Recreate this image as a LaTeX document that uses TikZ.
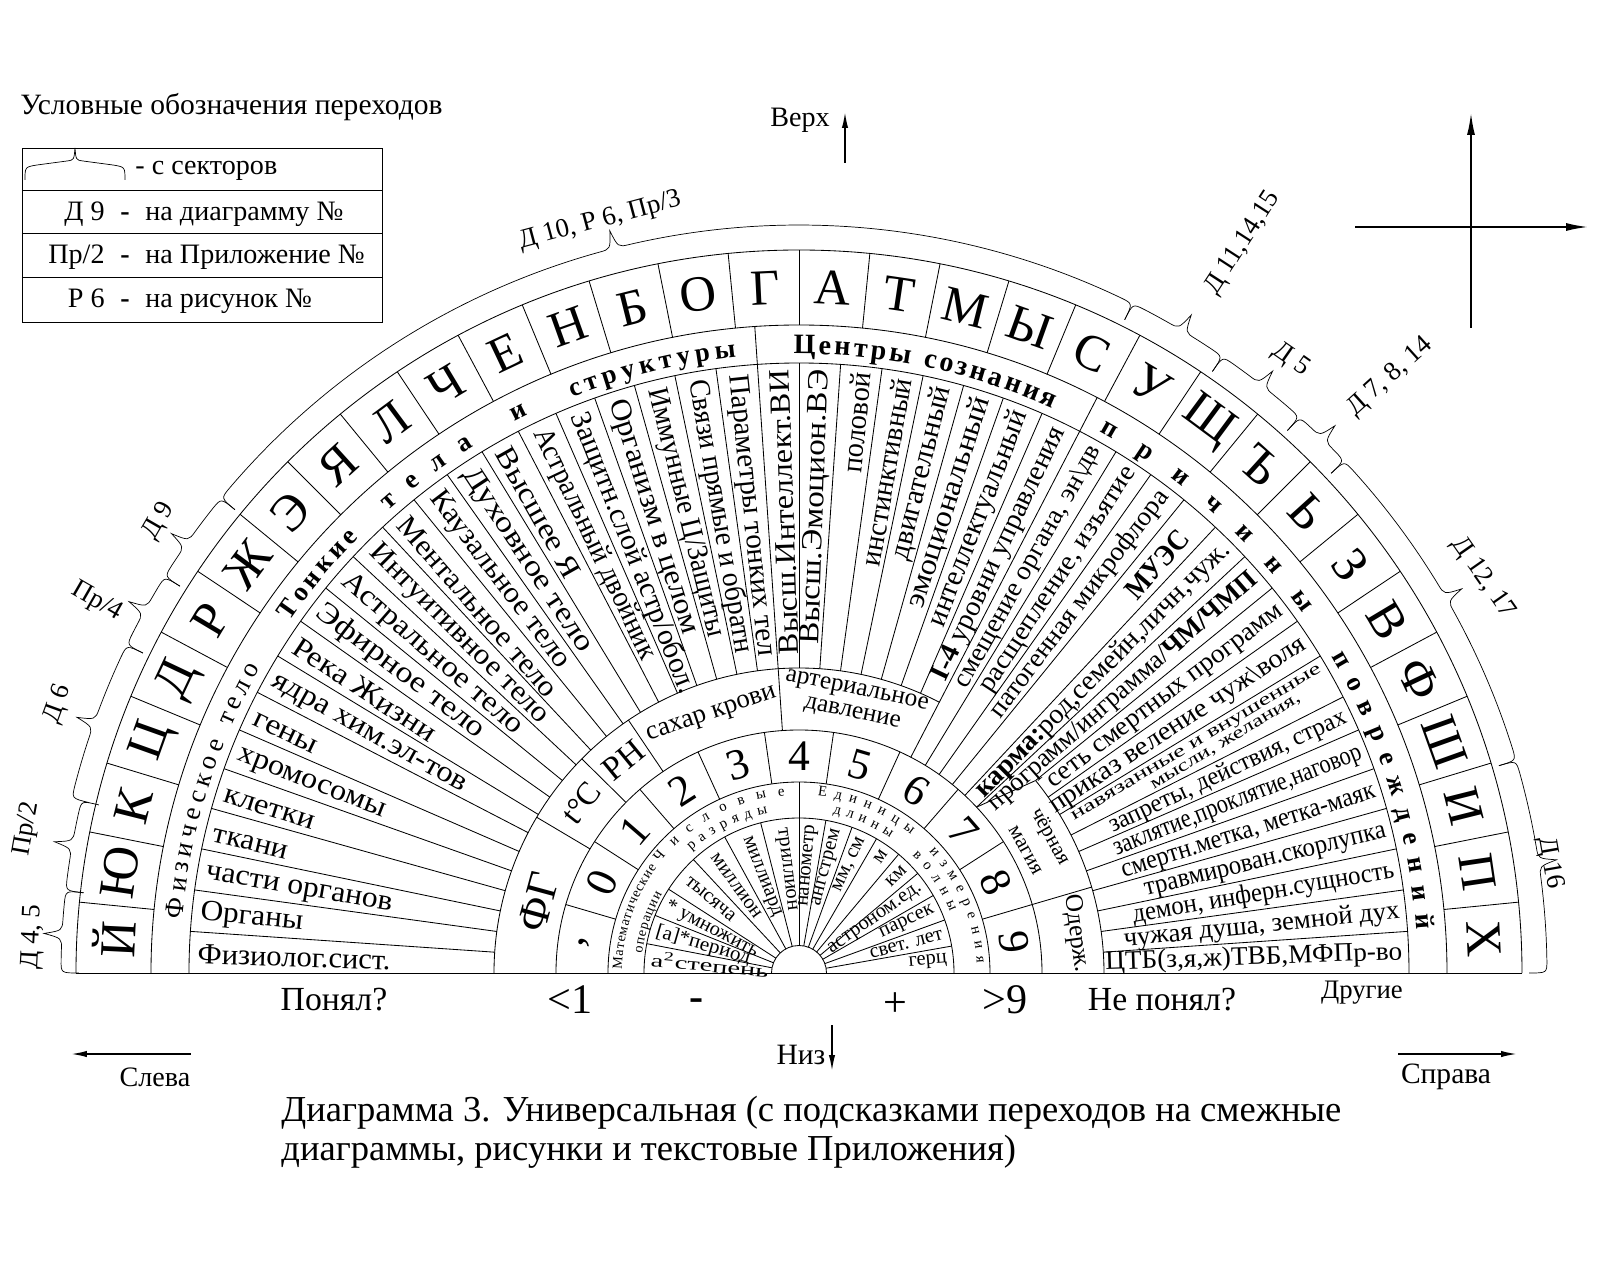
\documentclass[tikz,border=0pt]{standalone}
\usepackage{fontspec}
\setmainfont{Liberation Serif}
\usepackage{graphicx}
\usetikzlibrary{arrows.meta,decorations.text}

\newlength\pxu
\setlength\pxu{0.25mm}
% text squeezed to a given length and height (in picture units)
\newcommand\fitt[3]{\resizebox{#1\pxu}{#2\pxu}{\rule{0pt}{0.75em}#3}}
% curly brace round the outer ring: [radius]{from}{tip}{to}
\newcommand\brc[4][748]{%
  \pgfmathsetmacro\brin{#1-18}\pgfmathsetmacro\brout{#1+18}%
  \draw[brc] (#2:\brin) .. controls (#2:#1) .. ({#2-1}:#1)
    arc[start angle={#2-1}, end angle={#3+1.2}, radius=#1]
    .. controls ({#3+0.3}:#1) .. (#3:\brout)
    .. controls ({#3-0.3}:#1) .. ({#3-1.2}:#1)
    arc[start angle={#3-1.2}, end angle={#4+1}, radius=#1]
    .. controls (#4:#1) .. (#4:\brin);}
\def\stp{3.913043}

\begin{document}
\begin{tikzpicture}[x=0.25mm, y=0.25mm, line width=0.6pt,
  every node/.style={inner sep=0pt},
  ltrf/.style={font=\fontsize{36}{36}\selectfont},
  dgtf/.style={font=\fontsize{31}{31}\selectfont},
  smlf/.style={font=\fontsize{14.5}{14.5}\selectfont},
  reff/.style={font=\fontsize{19}{19}\selectfont},
  lgf/.style={font=\fontsize{20}{20}\selectfont},
  bigf/.style={font=\fontsize{30}{30}\selectfont},
  brc/.style={line width=0.5pt},
  arr/.style={line width=1.2pt, -{Latex[length=4mm,width=1.6mm]}},
  arctxt/.style={decorate, decoration={text along path, text align={fit to path}, text={#1}}}]
\useasboundingbox (-799,-307) rectangle (801,973);

% Rings
\draw (-723,0) -- (723,0);
\foreach \rr in {723,648,610,243,191,155,27.5}
  \draw (\rr,0) arc[start angle=0, end angle=180, radius=\rr];
\draw (-305,0) arc[start angle=180, end angle={16*\stp}, radius=305];
\draw (305,0) arc[start angle=0, end angle={10*\stp}, radius=305];

% Letters
\foreach \mm in {1,...,31} \draw ({\mm*5.625}:648) -- ({\mm*5.625}:723);
\foreach \lt [count=\mm from 0] in {Й,Ю,К,Ц,Д,Р,Ж,Э,Я,Л,Ч,Е,Н,Б,О,Г,А,Т,М,Ы,С,У,Щ,Ъ,Ь,З,В,Ф,Ш,И,П,Х}
  \node[ltrf, rotate={90-(\mm+0.5)*5.625}] (L\mm) at ({180-(\mm+0.5)*5.625}:686) {\lt};

% Sector lines
\draw ({16*\stp}:243) -- ({16*\stp}:648);
\draw ({24*\stp}:243) -- ({24*\stp}:648);
\foreach \kk in {1,...,6,8,9,10} \draw ({\kk*\stp}:305) -- ({\kk*\stp}:610);
\draw (26.9:305) -- (26.9:610);
\foreach \kk in {11,...,15} \draw ({\kk*\stp}:243) -- ({\kk*\stp}:610);
\foreach \kk in {17,...,23} \draw ({\kk*\stp}:305) -- ({\kk*\stp}:610);
\foreach \kk in {25,...,45} \draw ({\kk*\stp}:305) -- ({\kk*\stp}:610);
\draw ({11*\stp}:243) -- ({10*\stp}:305);
\foreach \ang in {149.3,135.4,124} \draw (\ang:243) -- (\ang:305);
\foreach \kk in {2,...,10} \draw ({\kk*180/11}:191) -- ({\kk*180/11}:243);
\draw ({180/11}:191) -- ({180/11}:305);
\foreach \ang in {169.09,158.18,147.27,132.95,118.64,104.32} \draw (\ang:27.5) -- (\ang:155);
\foreach \ang in {10,20,...,80} \draw (\ang:27.5) -- (\ang:155);
\draw (90:27.5) -- (90:191);

% Ring titles
\path[arctxt={|\fontsize{19}{19}\selectfont|Физическое тело}] (175:619) arc[start angle=175, end angle=150.5, radius=619];
\path[arctxt={|\fontsize{19}{19}\selectfont\bfseries|Тонкие}] (145.4:619) arc[start angle=145.4, end angle=135.3, radius=619];
\path[arctxt={|\fontsize{19}{19}\selectfont\bfseries|тела}] (131.6:619) arc[start angle=131.6, end angle=121.7, radius=619];
\node[font=\fontsize{19}{19}\selectfont\bfseries, rotate=26.6] (ti) at (116.6:627) {и};
\path[arctxt={|\fontsize{19}{19}\selectfont\bfseries|структуры}] (111.5:619) arc[start angle=111.5, end angle=95.8, radius=619];
\path[arctxt={|\fontsize{20}{20}\selectfont\bfseries|Центры сознания}] (90.5:619) arc[start angle=90.5, end angle=65.8, radius=619];
\path[arctxt={|\fontsize{19}{19}\selectfont\bfseries|причины}] (61:619) arc[start angle=61, end angle=35.5, radius=619];
\path[arctxt={|\fontsize{19}{19}\selectfont\bfseries|повреждений}] (30.7:619) arc[start angle=30.7, end angle=4, radius=619];

% Physical and subtle bodies
\foreach \tx/\ww [count=\ii from 0] in {Физиолог.сист./193, Органы/103, части органов/189, ткани/76,
    клетки/94, хромосомы/157, гены/69, ядра хим.эл-тов/219, Река Жизни/166, Эфирное тело/204,
    Астральное тело/231, Интуитивное тело/243, Ментальное тело/229, Каузальное тело/215,
    Духовное тело/215, Высшее Я/145, Астральный двойник/253, {Защитн.слой астр/обол.}/300,
    Организм в целом/245, {Иммунные Ц/Защиты}/255, Связи прямые и обратн/277, Параметры тонких тел/283}
  \node[anchor=west, rotate={-(\ii+0.5)*\stp}] (P\ii) at ({180-(\ii+0.5)*\stp}:602) {\fitt{\ww}{22}{\tx}};

% Centres and causes
\foreach \jj/\ww/\hh/\tx in {0/297/20/{ЦТБ(з,я,ж)ТВБ,МФПр-во}, 1/277/20/{чужая душа, земной дух},
    2/265/20/{демон, инферн.сущность}, 3/248/20/{травмирован.скорлупка},
    4/265/20/{смертн.метка, метка-маяк}, 5/265/20/{заклятие,проклятие,наговор},
    8/302/20/{приказ веление чуж\textbackslash воля},
    9/289/20/{сеть смертных программ}, 10/349/20/{программ/инграмма/\textbf{ЧМ/ЧМП}},
    11/349/21/{\textbf{карма:}род,семейн,личн,чуж.}, 13/280/20/{патогенная микрофлора},
    14/265/20/{расщепление, изъятие}, 15/274/20/{смещение органа, эн\textbackslash дв},
    16/278/21/{\textbf{I-4} уровни управления}, 17/230/22/интеллектуальный, 18/220/22/эмоциональный,
    19/178/22/двигательный, 20/190/22/инстинктивный, 21/100/22/половой,
    22/275/22/Высш.Эмоцион.ВЭ, 23/285/22/Высш.Интеллект.ВИ}
  \node[anchor=east, rotate={(\jj+0.5)*\stp}] (Q\jj) at ({(\jj+0.5)*\stp}:604) {\fitt{\ww}{\hh}{\tx}};
\node[anchor=east, rotate=25.2] (Q6) at (25.2:604) {\fitt{260}{19}{запреты, действия, страх}};
\node[anchor=east, rotate=31] (Q7a) at (30.4:604) {\fitt{289}{13}{навязанные и внушенные}};
\node[anchor=east, rotate=31] (Q7b) at (500,277) {\fitt{172}{13}{мысли, желания,}};
\node[rotate=48.9] (Q12) at (48.9:543) {\fitt{82}{22}{\textbf{МУЭС}}};

% Measures
\node[font=\fontsize{31}{31}\selectfont, rotate=74.8] (FG) at (164.8:270) {ФГ};
\node[font=\fontsize{23}{23}\selectfont, rotate=52] (tC) at (142:276) {t°C};
\node[font=\fontsize{24}{24}\selectfont, rotate=39.3] (PH) at (129.5:276) {PH};
\node[font=\fontsize{19}{19}\selectfont, rotate=18.7] (sug) at (108.7:272) {сахар крови};
\node[font=\fontsize{18}{16.5}\selectfont, align=center, rotate=-11.6] (art) at (78.4:276) {артериальное\\давление};
\node[font=\fontsize{15}{20}\selectfont, align=center, rotate=-61] (mag) at (28.5:273) {чёрная\\магия};
\node[font=\fontsize{18}{18}\selectfont, rotate=-81.9] (odr) at (8.1:280) {Одерж.};

% Digits
\foreach \dg [count=\kk from 0] in {9,8,7,6,5,4,3,2,1,0,{,}}
  \node[dgtf, rotate={(\kk+0.5)*180/11-90}] (D\kk) at ({(\kk+0.5)*180/11}:217) {\dg};

% Inner band
\path[arctxt={|\fontsize{10}{10}\selectfont|Математические}] (179:177) arc[start angle=179, end angle=143.5, radius=177];
\path[arctxt={|\fontsize{10}{10}\selectfont|операции}] (173:158) arc[start angle=173, end angle=150, radius=158];
\path[arctxt={|\fontsize{10.5}{10.5}\selectfont|Числовые}] (141.5:178) arc[start angle=141.5, end angle=94.5, radius=178];
\path[arctxt={|\fontsize{10.5}{10.5}\selectfont|разряды}] (131.4:163) arc[start angle=131.4, end angle=101, radius=163];
\path[arctxt={|\fontsize{10.5}{10.5}\selectfont|Единицы}] (84:178) arc[start angle=84, end angle=51, radius=178];
\path[arctxt={|\fontsize{10.5}{10.5}\selectfont|измерения}] (43:178) arc[start angle=43, end angle=3, radius=178];
\path[arctxt={|\fontsize{10.5}{10.5}\selectfont|длины}] (78:163) arc[start angle=78, end angle=56, radius=163];
\path[arctxt={|\fontsize{10.5}{10.5}\selectfont|волны}] (46:163) arc[start angle=46, end angle=22, radius=163];

% Operations and units
\node[anchor=west, rotate=-5.45] (U1) at (174.55:149) {\fitt{118}{15}{a\textsuperscript{2}степень}};
\node[anchor=west, rotate=-16.36] (U2) at (163.64:149) {\fitt{98}{15}{[a]*период}};
\node[anchor=west, rotate=-27.27] (U3) at (152.73:149) {\fitt{102}{15}{* умножить}};
\foreach \tx/\ang [count=\ii from 4] in {тысяча/140.11, миллион/125.8, миллиард/111.48, триллион/97.16}
  \node[smlf, anchor=west, rotate=\ang-180] (U\ii) at (\ang:146) {\tx};
\foreach \tx [count=\ii from 0] in {нанометр, ангстрем, {мм, см}, м, км, астроном.ед., парсек, свет. лет, герц}
  \node[smlf, anchor=east, rotate={85-10*\ii}] (V\ii) at ({85-10*\ii}:149) {\tx};

% Braces
\brc[738]{180}{177}{173.6}
\brc[738]{173.6}{170}{166.5}
\brc{166.5}{160.5}{154}
\brc{154}{151}{148}
\brc{148}{145}{140.6}
\brc{140.6}{104.3}{63.5}
\brc{63.5}{59.2}{55.5}
\brc{55.5}{51.8}{48}
\brc{48}{45.6}{43.2}
\brc{43.2}{30.1}{16.5}
\brc{16.5}{8.5}{0}
\node[reff, rotate=87] (b1) at (-766,36) {Д 4, 5};
\node[reff, rotate=80] (b2) at (-772,144) {Пр/2};
\node[reff, rotate=70] (b3) at (-741,269) {Д 6};
\node[reff, rotate=-30] (b4) at (-702,371) {Пр/4};
\node[reff, rotate=60] (b5) at (-640,452) {Д 9};
\node[reff, rotate=15] (b6) at (-199,752) {Д 10, Р 6, Пр/3};
\node[reff, rotate=57] (b7) at (444,730) {Д 11,14,15};
\node[reff, rotate=-35] (b8) at (492,613) {Д 5};
\node[reff, rotate=42] (b9) at (591,596) {Д 7, 8, 14};
\node[reff, rotate=-55] (b10) at (684,395) {Д 12, 17};
\node[reff, rotate=-80] (b11) at (751,110) {Д 16};

% Legend
\node[font=\fontsize{21}{21}\selectfont, anchor=west] (lgT) at (-779,866) {Условные обозначения переходов};
\draw (-777,651) rectangle (-417,825);
\foreach \yy in {783,740,696} \draw (-777,\yy) -- (-417,\yy);
\draw[brc] (-774,793) .. controls (-774,806) .. (-762,808) -- (-732,812)
  .. controls (-725,813) .. (-724,825) .. controls (-723,813) .. (-716,812)
  -- (-686,808) .. controls (-674,806) .. (-674,793);
\node[lgf, anchor=base west] (lg1) at (-664,798) {- с секторов};
\foreach \cd/\ds/\yy [count=\ii from 2] in {{Д 9}/{на диаграмму №}/752, {Пр/2}/{на Приложение №}/709, {Р 6}/{на рисунок №}/665} {
  \node[lgf, anchor=base east] (lg\ii a) at (-694,\yy) {\cd};
  \node[lgf, anchor=base] (lg\ii b) at (-674,\yy) {\textbf{-}};
  \node[lgf, anchor=base west] (lg\ii c) at (-654,\yy) {\ds};
}

% Directions
\node[font=\fontsize{20}{20}\selectfont] (up) at (1,853) {Верх};
\coordinate (up0) at (46,810); \coordinate (up1) at (46,861);
\draw[arr] (up0) -- (up1);
\node[font=\fontsize{21}{21}\selectfont] (dn) at (2,-82) {Низ};
\coordinate (dn0) at (33,-52); \coordinate (dn1) at (33,-98);
\draw[arr] (dn0) -- (dn1);
\node[font=\fontsize{20}{20}\selectfont] (lf) at (-644,-104) {Слева};
\coordinate (lf0) at (-608,-81); \coordinate (lf1) at (-728,-81);
\draw[arr] (lf0) -- (lf1);
\node[font=\fontsize{21}{21}\selectfont] (rt) at (647,-104) {Справа};
\coordinate (rt0) at (599,-81); \coordinate (rt1) at (718,-81);
\draw[arr] (rt0) -- (rt1);
\coordinate (cx0) at (672,645); \coordinate (cx1) at (672,860);
\coordinate (cx2) at (556,746); \coordinate (cx3) at (789,746);
\draw[line width=1.2pt, -{Latex[length=5.5mm,width=2mm]}] (cx0) -- (cx1);
\draw[line width=1.2pt, -{Latex[length=5.5mm,width=2mm]}] (cx2) -- (cx3);

% Answers
\node[font=\fontsize{24}{24}\selectfont] (ok) at (-465,-27) {Понял?};
\node[bigf] (lt1) at (-229,-27) {<1};
\node[bigf, anchor=base] (mn) at (-102,-37) {\textbf{-}};
\node[bigf, anchor=base] (pl) at (96,-43) {+};
\node[bigf] (gt9) at (206,-27) {>9};
\node[font=\fontsize{24}{24}\selectfont] (nok) at (363,-27) {Не понял?};
\node[font=\fontsize{19}{19}\selectfont] (oth) at (563,-20) {Другие};

% Caption
\node[font=\fontsize{26}{27.7}\selectfont, align=left, anchor=west] (capt) at (-518,-159.5)
  {Диаграмма 3. Универсальная (с подсказками переходов на смежные\\диаграммы, рисунки и текстовые Приложения)};
\end{tikzpicture}
\end{document}
